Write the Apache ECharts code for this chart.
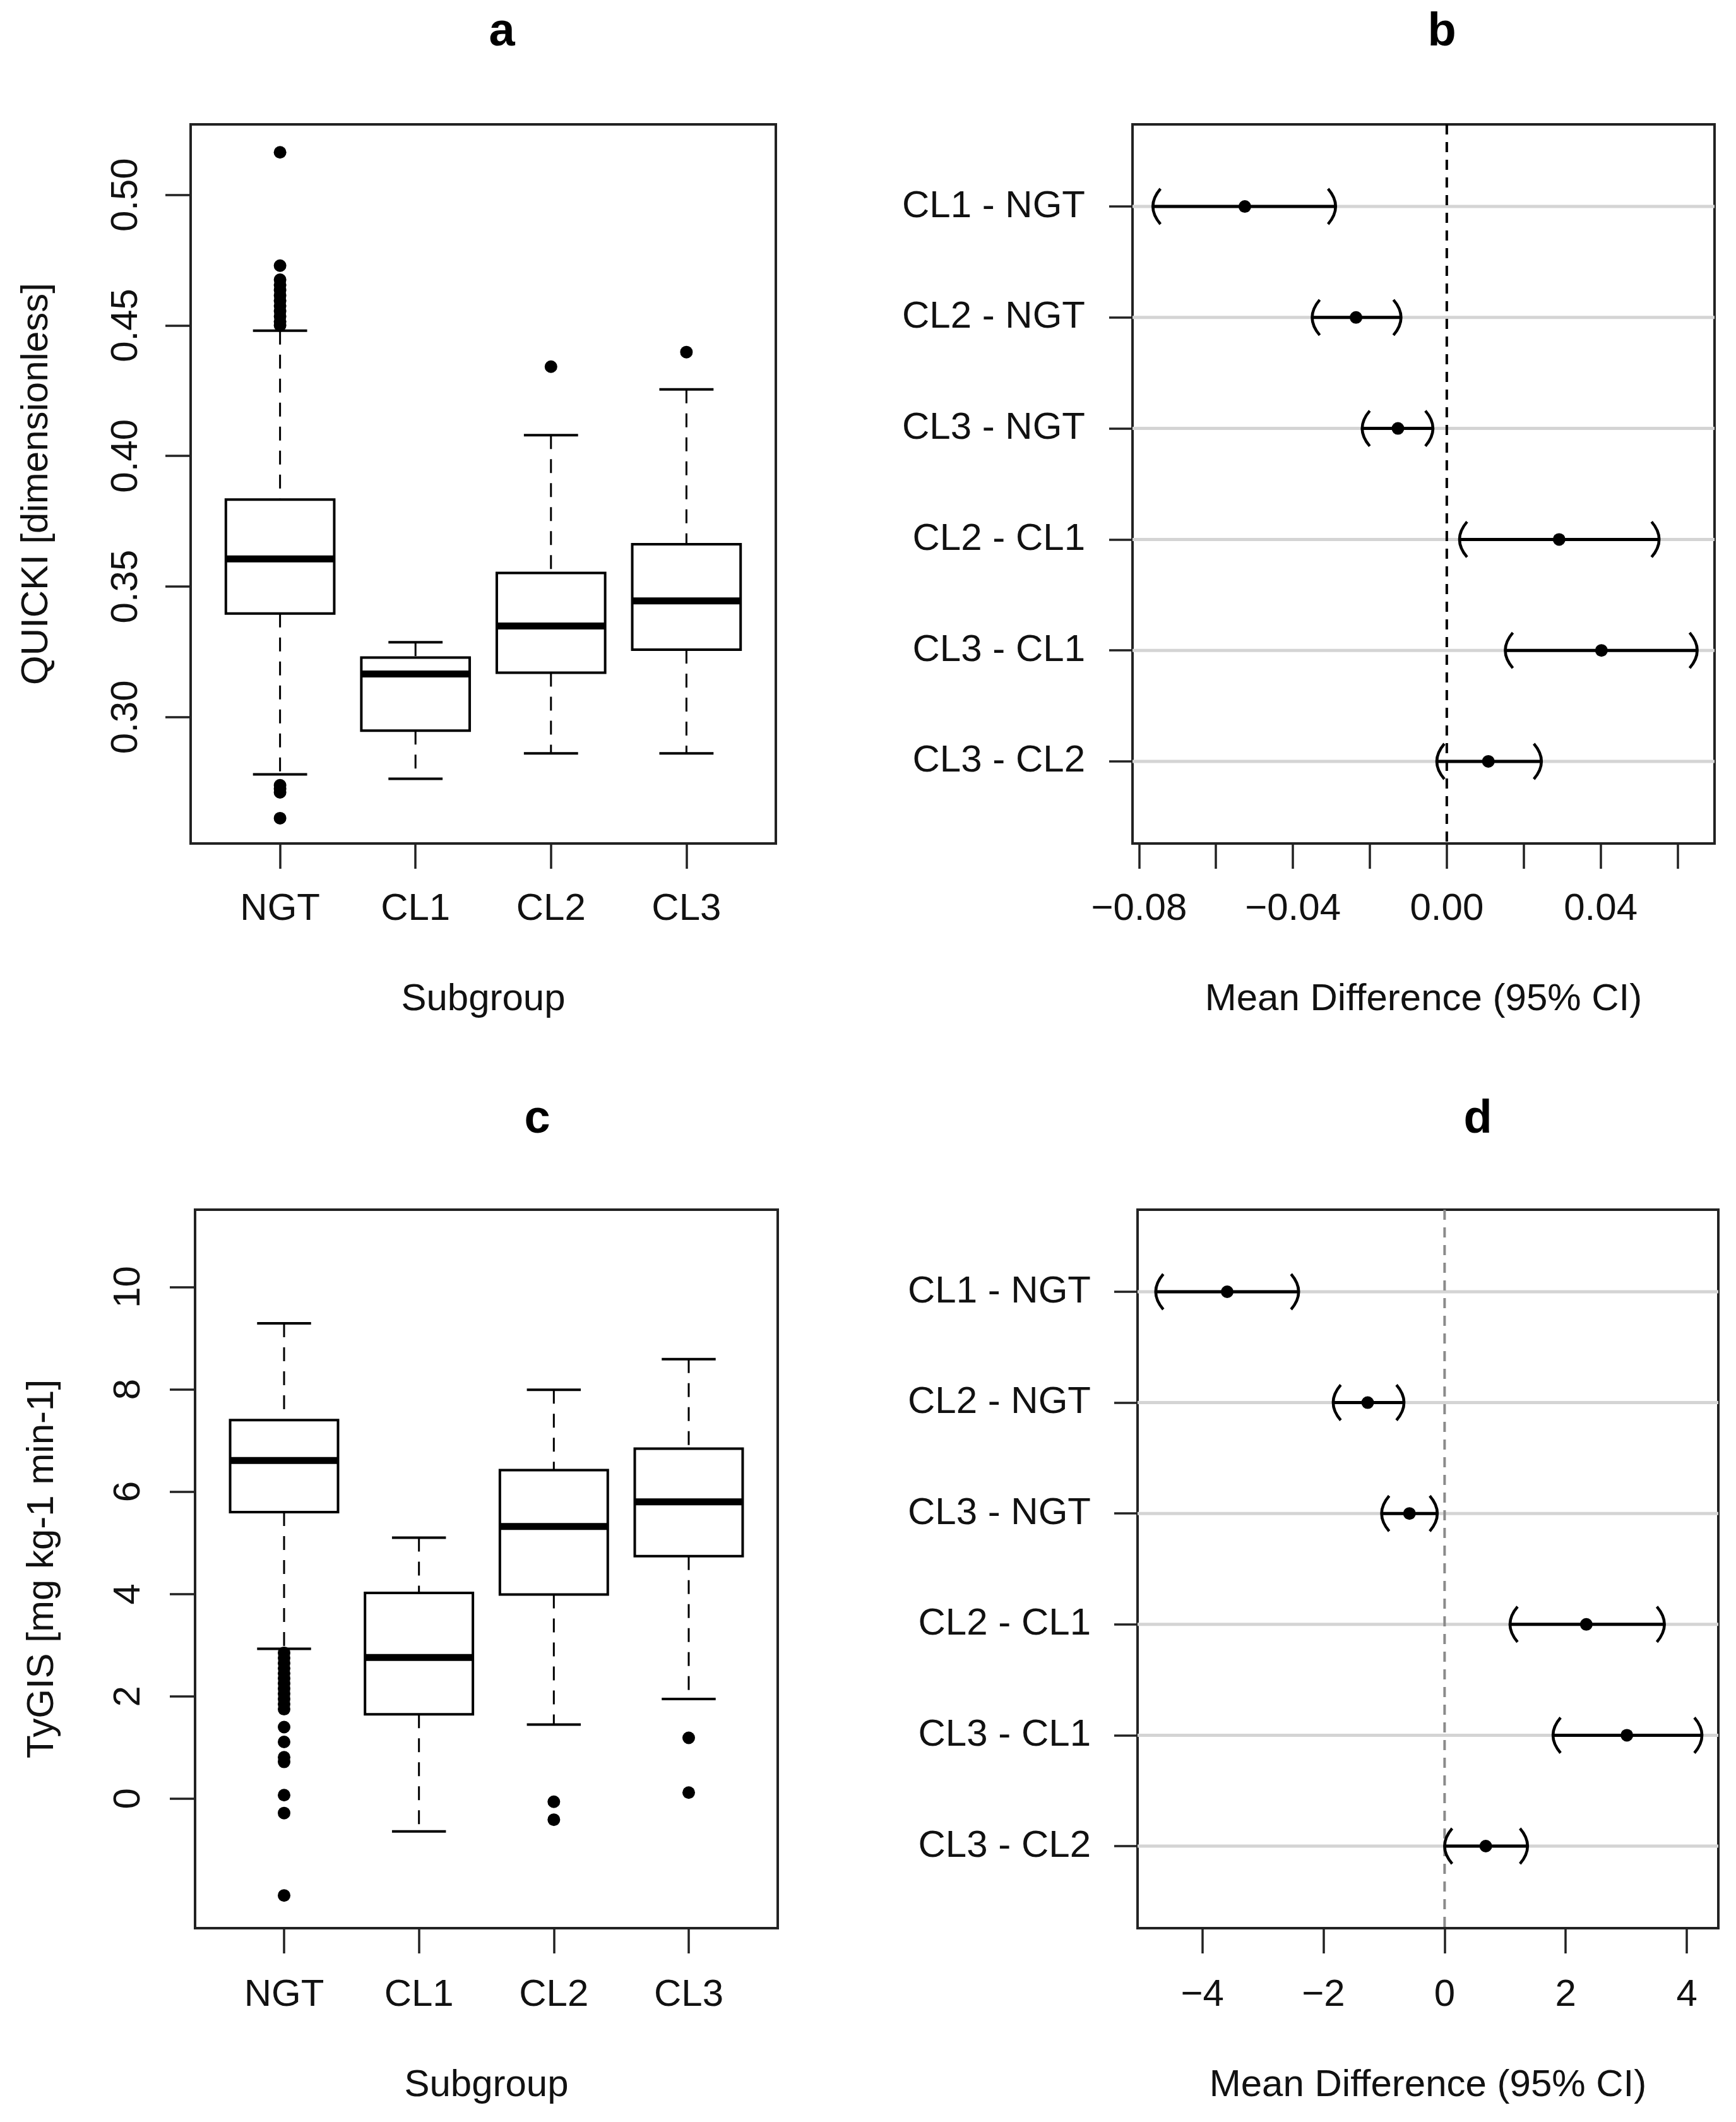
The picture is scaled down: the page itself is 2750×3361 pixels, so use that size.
<!DOCTYPE html>
<html>
<head>
<meta charset="utf-8">
<script src="https://cdn.jsdelivr.net/npm/echarts@6/dist/echarts.min.js"></script>
<style>html,body{margin:0;padding:0;background:#fff}#c{width:2750px;height:3361px}</style>
</head>
<body>
<div id="c"></div>
<script>
// ---------- data ----------
const groups = ['NGT', 'CL1', 'CL2', 'CL3'];
// [lower whisker, Q1, median, Q3, upper whisker]
const quickiBox = [
  [0.2781, 0.3397, 0.3606, 0.3833, 0.4480],
  [0.2764, 0.2948, 0.3165, 0.3228, 0.3287],
  [0.2861, 0.3170, 0.3349, 0.3552, 0.4080],
  [0.2861, 0.3258, 0.3445, 0.3662, 0.4255]
];
const quickiOutNGT = [0.5163, 0.4729, 0.4675, 0.4655, 0.4635, 0.4615, 0.4595, 0.4575, 0.4555, 0.4535, 0.4515, 0.4500, 0.2739, 0.2725, 0.2712, 0.2613];
const quickiOutCL2 = [0.4342];
const quickiOutCL3 = [0.4398];
const quickiTicks = [0.30, 0.35, 0.40, 0.45, 0.50];

const tygisBox = [
  [2.93, 5.60, 6.61, 7.40, 9.29],
  [-0.64, 1.65, 2.76, 4.02, 5.10],
  [1.45, 3.99, 5.32, 6.42, 7.99],
  [1.95, 4.74, 5.80, 6.84, 8.59]
];
const tygisOutNGT = [2.85, 2.75, 2.65, 2.55, 2.45, 2.35, 2.25, 2.15, 2.05, 1.95, 1.85, 1.75, 1.40, 1.11, 0.81, 0.72, 0.07, -0.28, -1.89];
const tygisOutCL2 = [-0.06, -0.41];
const tygisOutCL3 = [1.19, 0.12];
const tygisTicks = [0, 2, 4, 6, 8, 10];

const pairLabels = ['CL1 - NGT', 'CL2 - NGT', 'CL3 - NGT', 'CL2 - CL1', 'CL3 - CL1', 'CL3 - CL2'];
const quickiDiffLower = [-0.0764, -0.0350, -0.0220, 0.0033, 0.0152, -0.0026];
const quickiDiffMean  = [-0.0525, -0.0236, -0.0127, 0.0292, 0.0402, 0.0108];
const quickiDiffUpper = [-0.0289, -0.0119, -0.0036, 0.0552, 0.0651, 0.0246];
const quickiDiffTicks = [-0.08, -0.06, -0.04, -0.02, 0, 0.02, 0.04, 0.06];
const quickiDiffLabels = [-0.08, -0.04, 0, 0.04];

const tygisDiffLower = [-4.77, -1.84, -1.04, 1.08, 1.79, 0.00];
const tygisDiffMean  = [-3.59, -1.27, -0.58, 2.34, 3.01, 0.68];
const tygisDiffUpper = [-2.41, -0.67, -0.12, 3.63, 4.25, 1.37];
const tygisDiffTicks = [-4, -2, 0, 2, 4];

// ---------- helpers ----------
const FONT = '"Liberation Sans", Arial, Helvetica, sans-serif';
const INK = '#111';
const rows = pairLabels.map((_, i) => i + 1);

function boxRender(params, api) {
  const x = api.value(0);
  const p = k => api.coord([x, api.value(k)]);
  const lo = p(1), q1 = p(2), md = p(3), q3 = p(4), hi = p(5);
  const hw = api.size([0.8, 0])[0] / 2;
  const cw = hw / 2;
  const dash = { stroke: '#000', lineWidth: 3, lineDash: [22, 16] };
  const solid = { stroke: '#000', lineWidth: 4 };
  return {
    type: 'group',
    children: [
      { type: 'line', shape: { x1: hi[0], y1: hi[1], x2: q3[0], y2: q3[1] }, style: dash },
      { type: 'line', shape: { x1: q1[0], y1: q1[1], x2: lo[0], y2: lo[1] }, style: dash },
      { type: 'line', shape: { x1: hi[0] - cw, y1: hi[1], x2: hi[0] + cw, y2: hi[1] }, style: solid },
      { type: 'line', shape: { x1: lo[0] - cw, y1: lo[1], x2: lo[0] + cw, y2: lo[1] }, style: solid },
      { type: 'rect', shape: { x: md[0] - hw, y: q3[1], width: 2 * hw, height: q1[1] - q3[1] },
        style: { fill: '#fff', stroke: '#000', lineWidth: 4 } },
      { type: 'line', shape: { x1: md[0] - hw, y1: md[1], x2: md[0] + hw, y2: md[1] },
        style: { stroke: '#000', lineWidth: 11 } }
    ]
  };
}

function dotRender(params, api) {
  const p = api.coord([api.value(0), api.value(1)]);
  return { type: 'circle', shape: { cx: p[0], cy: p[1], r: 10 }, style: { fill: '#000', stroke: null } };
}

function ciRender(params, api) {
  const y = api.value(0);
  const L = api.coord([api.value(1), y]);
  const M = api.coord([api.value(2), y]);
  const U = api.coord([api.value(3), y]);
  const s = { stroke: '#000', lineWidth: 4.5, fill: null };
  return {
    type: 'group',
    children: [
      { type: 'line', shape: { x1: L[0], y1: L[1], x2: U[0], y2: U[1] }, style: { stroke: '#000', lineWidth: 5 } },
      { type: 'bezierCurve', shape: { x1: L[0] + 12, y1: L[1] - 28, cpx1: L[0] - 12, cpy1: L[1], x2: L[0] + 12, y2: L[1] + 28 }, style: s },
      { type: 'bezierCurve', shape: { x1: U[0] - 12, y1: U[1] - 28, cpx1: U[0] + 12, cpy1: U[1], x2: U[0] - 12, y2: U[1] + 28 }, style: s },
      { type: 'circle', shape: { cx: M[0], cy: M[1], r: 10 }, style: { fill: '#000', stroke: null } }
    ]
  };
}

function gridLineRender(params, api) {
  const cs = params.coordSys;
  const p = api.coord([0, api.value(0)]);
  return { type: 'line', shape: { x1: cs.x, y1: p[1], x2: cs.x + cs.width, y2: p[1] },
    style: { stroke: '#d4d4d4', lineWidth: 5 } };
}

function zeroLineRender(color) {
  return function (params, api) {
    const cs = params.coordSys;
    const p = api.coord([api.value(0), 1]);
    return { type: 'line', shape: { x1: p[0], y1: cs.y, x2: p[0], y2: cs.y + cs.height },
      style: { stroke: color, lineWidth: 4, lineDash: [16, 12] } };
  };
}

function minusFmt(d) {
  return v => (v < 0 ? '\u2212' : '') + Math.abs(v).toFixed(d);
}

const tickStyle = { color: '#222', width: 3.5 };
const gridCommon = { show: true, borderColor: '#222', borderWidth: 4, backgroundColor: 'transparent' };
const noLine = { show: false, onZero: false };

function catXAxis(gi, margin, gap) {
  return {
    type: 'value', gridIndex: gi, min: 0.34, max: 4.66,
    axisLine: noLine, splitLine: { show: false },
    axisTick: { show: true, length: 40, lineStyle: tickStyle, customValues: [1, 2, 3, 4] },
    axisLabel: { show: true, customValues: [1, 2, 3, 4], formatter: v => groups[Math.round(v) - 1],
      fontSize: 60, lineHeight: 60, fontFamily: FONT, color: INK, margin: margin },
    name: 'Subgroup', nameLocation: 'middle', nameGap: gap,
    nameTextStyle: { fontSize: 60, lineHeight: 60, fontFamily: FONT, color: INK }
  };
}

function valYAxis(gi, min, max, ticks, fmt, name, margin, gap) {
  return {
    type: 'value', gridIndex: gi, min: min, max: max,
    axisLine: noLine, splitLine: { show: false },
    axisTick: { show: true, length: 40, lineStyle: tickStyle, customValues: ticks },
    axisLabel: { show: true, customValues: ticks, formatter: fmt, rotate: 90,
      fontSize: 60, lineHeight: 60, fontFamily: FONT, color: INK, margin: margin },
    name: name, nameLocation: 'middle', nameGap: gap,
    nameTextStyle: { fontSize: 60, lineHeight: 60, fontFamily: FONT, color: INK }
  };
}

function diffXAxis(gi, min, max, ticks, labels, fmt, margin, gap) {
  return {
    type: 'value', gridIndex: gi, min: min, max: max,
    axisLine: noLine, splitLine: { show: false },
    axisTick: { show: true, length: 40, lineStyle: tickStyle, customValues: ticks },
    axisLabel: { show: true, customValues: labels, formatter: fmt,
      fontSize: 60, lineHeight: 60, fontFamily: FONT, color: INK, margin: margin },
    name: 'Mean Difference (95% CI)', nameLocation: 'middle', nameGap: gap,
    nameTextStyle: { fontSize: 60, lineHeight: 60, fontFamily: FONT, color: INK }
  };
}

function rowYAxis(gi, margin) {
  return {
    type: 'value', gridIndex: gi, min: 0.26, max: 6.74, inverse: true,
    axisLine: noLine, splitLine: { show: false },
    axisTick: { show: true, length: 37, lineStyle: tickStyle, customValues: rows },
    axisLabel: { show: true, customValues: rows, formatter: v => pairLabels[Math.round(v) - 1],
      fontSize: 60, fontFamily: FONT, color: INK, margin: margin }
  };
}

function outliers(arrs) {
  const out = [];
  arrs.forEach(([x, list]) => list.forEach(v => out.push([x, v])));
  return out;
}

const option = {
  animation: false,
  backgroundColor: '#fff',
  grid: [
    Object.assign({ left: 302, top: 197, width: 927, height: 1139 }, gridCommon),
    Object.assign({ left: 1794, top: 197, width: 922, height: 1139 }, gridCommon),
    Object.assign({ left: 309, top: 1916, width: 923, height: 1138 }, gridCommon),
    Object.assign({ left: 1802, top: 1916, width: 920, height: 1138 }, gridCommon)
  ],
  xAxis: [
    catXAxis(0, 74, 217),
    diffXAxis(1, -0.0817, 0.0696, quickiDiffTicks, quickiDiffLabels, minusFmt(2), 74, 217),
    catXAxis(2, 76, 219),
    diffXAxis(3, -5.07, 4.52, tygisDiffTicks, tygisDiffTicks, minusFmt(0), 76, 219)
  ],
  yAxis: [
    valYAxis(0, 0.2516, 0.527, quickiTicks, v => v.toFixed(2), 'QUICKI [dimensionless]', 72, 214),
    rowYAxis(1, 75),
    valYAxis(2, -2.53, 11.51, tygisTicks, v => String(Math.round(v)), 'TyGIS [mg kg-1 min-1]', 75, 212),
    rowYAxis(3, 74)
  ],
  graphic: [
    { type: 'text', x: 795, y: 52, style: { text: 'a', font: 'bold 74px ' + FONT, align: 'center', verticalAlign: 'middle', fill: '#000' } },
    { type: 'text', x: 2284, y: 52, style: { text: 'b', font: 'bold 74px ' + FONT, align: 'center', verticalAlign: 'middle', fill: '#000' } },
    { type: 'text', x: 851, y: 1774, style: { text: 'c', font: 'bold 74px ' + FONT, align: 'center', verticalAlign: 'middle', fill: '#000' } },
    { type: 'text', x: 2341, y: 1774, style: { text: 'd', font: 'bold 74px ' + FONT, align: 'center', verticalAlign: 'middle', fill: '#000' } }
  ],
  series: [
    // panel a
    { type: 'custom', xAxisIndex: 0, yAxisIndex: 0, renderItem: boxRender,
      encode: { x: 0, y: [1, 2, 3, 4, 5] },
      data: quickiBox.map((b, i) => [i + 1].concat(b)) },
    { type: 'custom', xAxisIndex: 0, yAxisIndex: 0, renderItem: dotRender, encode: { x: 0, y: 1 },
      data: outliers([[1, quickiOutNGT], [3, quickiOutCL2], [4, quickiOutCL3]]) },
    // panel b
    { type: 'custom', xAxisIndex: 1, yAxisIndex: 1, renderItem: gridLineRender, encode: { y: 0 },
      data: rows.map(r => [r]) },
    { type: 'custom', xAxisIndex: 1, yAxisIndex: 1, renderItem: zeroLineRender('#000'), encode: { x: 0 },
      data: [[0]] },
    { type: 'custom', xAxisIndex: 1, yAxisIndex: 1, renderItem: ciRender, encode: { x: [1, 2, 3], y: 0 },
      data: rows.map((r, i) => [r, quickiDiffLower[i], quickiDiffMean[i], quickiDiffUpper[i]]) },
    // panel c
    { type: 'custom', xAxisIndex: 2, yAxisIndex: 2, renderItem: boxRender,
      encode: { x: 0, y: [1, 2, 3, 4, 5] },
      data: tygisBox.map((b, i) => [i + 1].concat(b)) },
    { type: 'custom', xAxisIndex: 2, yAxisIndex: 2, renderItem: dotRender, encode: { x: 0, y: 1 },
      data: outliers([[1, tygisOutNGT], [3, tygisOutCL2], [4, tygisOutCL3]]) },
    // panel d
    { type: 'custom', xAxisIndex: 3, yAxisIndex: 3, renderItem: gridLineRender, encode: { y: 0 },
      data: rows.map(r => [r]) },
    { type: 'custom', xAxisIndex: 3, yAxisIndex: 3, renderItem: zeroLineRender('#8a8a8a'), encode: { x: 0 },
      data: [[0]] },
    { type: 'custom', xAxisIndex: 3, yAxisIndex: 3, renderItem: ciRender, encode: { x: [1, 2, 3], y: 0 },
      data: rows.map((r, i) => [r, tygisDiffLower[i], tygisDiffMean[i], tygisDiffUpper[i]]) }
  ]
};

const chart = echarts.init(document.getElementById('c'), null, { renderer: 'canvas', width: 2750, height: 3361 });
chart.setOption(option);
</script>
</body>
</html>
